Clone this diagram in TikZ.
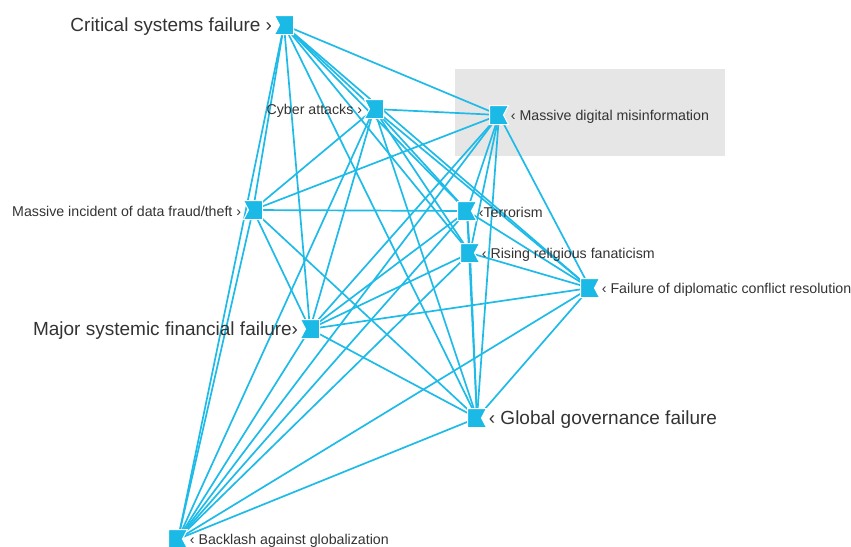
\documentclass[tikz,border=0pt]{standalone}
\usepackage{fontspec}
\setmainfont{Liberation Sans}
\usetikzlibrary{backgrounds}
\definecolor{edgec}{RGB}{30,187,232}
\definecolor{mk}{RGB}{27,186,230}
\definecolor{txt}{RGB}{51,51,51}
\definecolor{hl}{RGB}{230,230,230}
\begin{document}
\begin{tikzpicture}[x=1pt,y=-1pt,
  lmark/.style={minimum size=21pt, inner sep=0pt, path picture={
    \begin{scope}[shift={(path picture bounding box.center)}]
      \fill[mk, draw=white, line width=1pt] (-9.5,-9.5) -- (9.5,-9.5) -- (9.5,9.5) -- (-9.5,9.5) -- (-4.5,0) -- cycle;
    \end{scope}}},
  rmark/.style={minimum size=21pt, inner sep=0pt, path picture={
    \begin{scope}[shift={(path picture bounding box.center)}]
      \fill[mk, draw=white, line width=1pt] (-9.5,-9.5) -- (9.5,-9.5) -- (4.5,0) -- (9.5,9.5) -- (-9.5,9.5) -- cycle;
    \end{scope}}},
  lbl/.style={text=txt, inner sep=1pt, yshift=-1.5pt, font=\fontsize{14.2}{16}\selectfont},
  biglbl/.style={text=txt, inner sep=1pt, yshift=-1.5pt, font=\fontsize{19}{22}\selectfont},
  link/.style={draw=edgec, line width=1.7pt},
  hlbox/.style={fill=hl, draw=none}
]
\useasboundingbox (0,0) rectangle (851,546);

% markers
\node[lmark] (csf) at (284,25) {};
\node[lmark] (ca)  at (374,109) {};
\node[rmark] (mdm) at (499,115) {};
\node[lmark] (mdf) at (253,210) {};
\node[rmark] (ter) at (467,211) {};
\node[rmark] (rrf) at (470,253) {};
\node[rmark] (fdc) at (590,288) {};
\node[lmark] (msf) at (310,329) {};
\node[rmark] (ggf) at (477,418) {};
\node[rmark] (bag) at (178,539) {};

% labels
\node[biglbl, anchor=east] (tcsf) at (csf.west) {Critical systems failure ›};
\node[lbl, anchor=east] (tca) at (ca.west) {Cyber attacks ›};
\node[lbl, anchor=west] (tmdm) at (mdm.east) {‹ Massive digital misinformation};
\node[lbl, anchor=east] (tmdf) at (mdf.west) {Massive incident of data fraud/theft ›};
\node[lbl, anchor=west] (tter) at (ter.east) {‹Terrorism};
\node[lbl, anchor=west] (trrf) at (rrf.east) {‹ Rising religious fanaticism};
\node[lbl, anchor=west] (tfdc) at (fdc.east) {‹ Failure of diplomatic conflict resolution};
\node[biglbl, anchor=east] (tmsf) at (msf.west) {Major systemic financial failure›};
\node[biglbl, anchor=west] (tggf) at (ggf.east) {‹ Global governance failure};
\node[lbl, anchor=west] (tbag) at (bag.east) {‹ Backlash against globalization};

\begin{pgfonlayer}{background}
  \path[hlbox] (455,69) rectangle (725,156);
  \foreach \a/\b in {csf/ca,csf/mdm,csf/mdf,csf/bag,csf/msf,csf/ggf,csf/ter,csf/rrf,csf/fdc,
    ca/mdm,ca/mdf,ca/msf,ca/bag,ca/ter,ca/rrf,ca/fdc,ca/ggf,
    mdm/mdf,mdm/msf,mdm/bag,mdm/ter,mdm/rrf,mdm/fdc,mdm/ggf,
    mdf/ter,mdf/msf,mdf/ggf,mdf/bag,
    ter/rrf,ter/fdc,ter/msf,ter/ggf,ter/bag,
    rrf/fdc,rrf/msf,rrf/ggf,rrf/bag,
    fdc/msf,fdc/ggf,fdc/bag,
    msf/ggf,msf/bag,
    ggf/bag}
    \draw[link] (\a.center) -- (\b.center);
\end{pgfonlayer}
\end{tikzpicture}
\end{document}
